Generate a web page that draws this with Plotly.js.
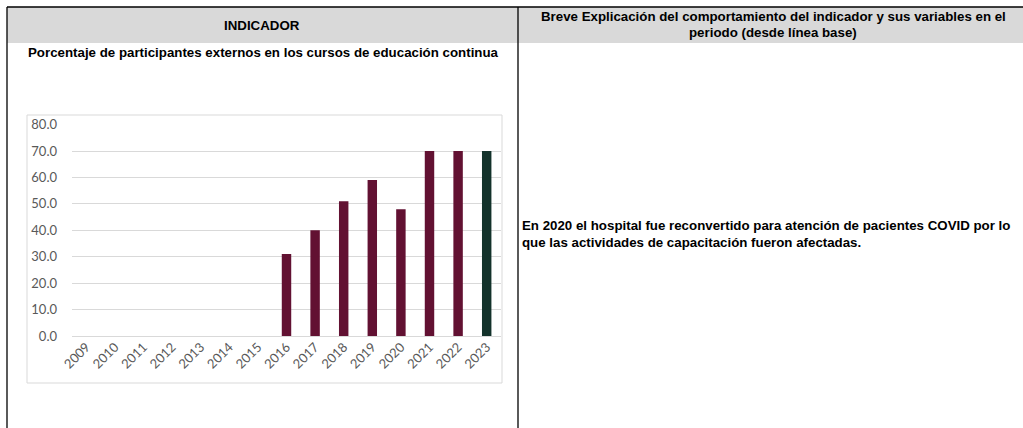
<!DOCTYPE html>
<html>
<head>
<meta charset="utf-8">
<script src="https://cdn.plot.ly/plotly-3.0.1.min.js"></script>
<style>
html,body{margin:0;padding:0;background:#fff;}
#chart{width:1023px;height:428px;}
</style>
</head>
<body>
<div id="chart"></div>
<script>
const years = ["2009","2010","2011","2012","2013","2014","2015","2016","2017","2018","2019","2020","2021","2022","2023"];
const values = [null,null,null,null,null,null,null,31.0,40.0,51.0,59.0,48.0,70.0,70.0,70.0];
const barColors = years.map(y => y === "2023" ? "#13322B" : "#621132");
const yTicks = [0,10,20,30,40,50,60,70,80];

const headerLeft = "INDICADOR";
const headerRight1 = "Breve Explicación del comportamiento del indicador y sus variables en el";
const headerRight2 = "periodo (desde línea base)";
const indicatorName = "Porcentaje de participantes externos en los cursos de educación continua";
const explanation1 = "En 2020 el hospital fue reconvertido para atención de pacientes COVID por lo";
const explanation2 = "que las actividades de capacitación fueron afectadas.";

const W = 1023, H = 428;
const px = x => x / W;
const py = y => 1 - y / H;

const trace = {
  type: "bar",
  x: years,
  y: values,
  marker: {color: barColors},
  width: 0.33,
  hoverinfo: "x+y"
};

const textFont = {family: "Liberation Sans, Arial, sans-serif", size: 13.3, color: "#000"};

const layout = {
  width: W, height: H,
  margin: {l: 0, r: 0, t: 0, b: 0, pad: 0},
  paper_bgcolor: "#fff",
  plot_bgcolor: "rgba(0,0,0,0)",
  showlegend: false,
  bargap: 0.67,
  xaxis: {
    domain: [px(72), px(501)],
    type: "category",
    tickangle: -45,
    showgrid: false,
    zeroline: false,
    showline: false,
    ticks: "",
    tickfont: {family: "Lato, Carlito, sans-serif", size: 13, color: "#595959"},
    anchor: "y"
  },
  yaxis: {
    domain: [py(336), py(124.6)],
    range: [0, 80],
    tickvals: yTicks,
    tickformat: ".1f",
    showgrid: true,
    gridcolor: "#D9D9D9",
    gridwidth: 1,
    zeroline: true,
    zerolinecolor: "#D9D9D9",
    zerolinewidth: 1,
    showline: false,
    ticks: "",
    ticklabelstandoff: 14,
    tickfont: {family: "Lato, Carlito, sans-serif", size: 13, color: "#595959"}
  },
  shapes: [
    {type: "rect", xref: "paper", yref: "paper", x0: px(7), x1: px(1023), y0: py(43), y1: py(7),
     fillcolor: "#D9D9D9", line: {width: 0}, layer: "below"},
    {type: "rect", xref: "paper", yref: "paper", x0: px(27), x1: px(502), y0: py(383), y1: py(115),
     fillcolor: "rgba(0,0,0,0)", line: {color: "#D9D9D9", width: 1}, layer: "below"},
    {type: "line", xref: "paper", yref: "paper", x0: px(7), x1: px(1023), y0: py(7), y1: py(7),
     line: {color: "#000", width: 1.3}},
    {type: "line", xref: "paper", yref: "paper", x0: px(7), x1: px(7), y0: py(7), y1: py(428),
     line: {color: "#000", width: 1.3}},
    {type: "line", xref: "paper", yref: "paper", x0: px(518), x1: px(518), y0: py(7), y1: py(428),
     line: {color: "#000", width: 1.3}}
  ],
  annotations: [
    {xref: "paper", yref: "paper", x: px(262), y: py(25), text: "<b>" + headerLeft + "</b>",
     showarrow: false, xanchor: "center", yanchor: "middle", font: textFont},
    {xref: "paper", yref: "paper", x: px(773), y: py(16), text: "<b>" + headerRight1 + "</b>",
     showarrow: false, xanchor: "center", yanchor: "middle", font: textFont},
    {xref: "paper", yref: "paper", x: px(773), y: py(32), text: "<b>" + headerRight2 + "</b>",
     showarrow: false, xanchor: "center", yanchor: "middle", font: textFont},
    {xref: "paper", yref: "paper", x: px(263), y: py(52), text: "<b>" + indicatorName + "</b>",
     showarrow: false, xanchor: "center", yanchor: "middle", font: textFont},
    {xref: "paper", yref: "paper", x: px(520), y: py(225), text: "<b>" + explanation1 + "</b>",
     showarrow: false, xanchor: "left", yanchor: "middle", font: textFont},
    {xref: "paper", yref: "paper", x: px(520), y: py(242), text: "<b>" + explanation2 + "</b>",
     showarrow: false, xanchor: "left", yanchor: "middle", font: textFont}
  ]
};

Plotly.newPlot("chart", [trace], layout, {displayModeBar: false, staticPlot: true});
</script>
</body>
</html>
